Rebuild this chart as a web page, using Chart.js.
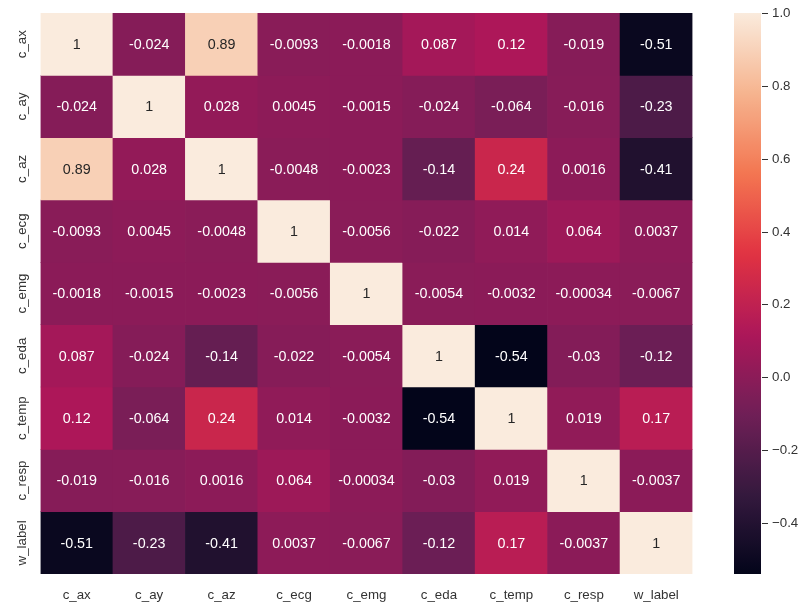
<!DOCTYPE html>
<html>
<head>
<meta charset="utf-8">
<script src="https://cdn.jsdelivr.net/npm/chart.js@4"></script>
<style>
  html, body { margin: 0; padding: 0; background: #ffffff; }
  #wrap { position: relative; width: 807px; height: 610px; }
  canvas { display: block; }
</style>
</head>
<body>
<div id="wrap"><canvas id="c" width="807" height="610"></canvas></div>
<script>
// ---------- DATA ----------
const variables = ["c_ax", "c_ay", "c_az", "c_ecg", "c_emg", "c_eda", "c_temp", "c_resp", "w_label"];
const row_c_ax    = [1, -0.024, 0.89, -0.0093, -0.0018, 0.087, 0.12, -0.019, -0.51];
const row_c_ay    = [-0.024, 1, 0.028, 0.0045, -0.0015, -0.024, -0.064, -0.016, -0.23];
const row_c_az    = [0.89, 0.028, 1, -0.0048, -0.0023, -0.14, 0.24, 0.0016, -0.41];
const row_c_ecg   = [-0.0093, 0.0045, -0.0048, 1, -0.0056, -0.022, 0.014, 0.064, 0.0037];
const row_c_emg   = [-0.0018, -0.0015, -0.0023, -0.0056, 1, -0.0054, -0.0032, -0.00034, -0.0067];
const row_c_eda   = [0.087, -0.024, -0.14, -0.022, -0.0054, 1, -0.54, -0.03, -0.12];
const row_c_temp  = [0.12, -0.064, 0.24, 0.014, -0.0032, -0.54, 1, 0.019, 0.17];
const row_c_resp  = [-0.019, -0.016, 0.0016, 0.064, -0.00034, -0.03, 0.019, 1, -0.0037];
const row_w_label = [-0.51, -0.23, -0.41, 0.0037, -0.0067, -0.12, 0.17, -0.0037, 1];
const matrix = [row_c_ax, row_c_ay, row_c_az, row_c_ecg, row_c_emg, row_c_eda, row_c_temp, row_c_resp, row_w_label];
const colorbarTicks = [-0.4, -0.2, 0.0, 0.2, 0.4, 0.6, 0.8, 1.0];
const VMIN = -0.54, VMAX = 1.0;

// ---------- COLORMAP (seaborn "rocket") ----------
const rocketStops = [
  [0/7, [3, 5, 26]],
  [1/7, [53, 25, 62]],
  [2/7, [112, 31, 87]],
  [3/7, [173, 23, 89]],
  [4/7, [225, 51, 66]],
  [5/7, [243, 118, 81]],
  [6/7, [246, 180, 143]],
  [7/7, [250, 235, 221]]
];
function rocket(t) {
  t = Math.max(0, Math.min(1, t));
  for (let i = 1; i < rocketStops.length; i++) {
    const [t1, c1] = rocketStops[i];
    const [t0, c0] = rocketStops[i - 1];
    if (t <= t1) {
      const f = (t - t0) / (t1 - t0);
      return c0.map((v, k) => Math.round(v + (c1[k] - v) * f));
    }
  }
  return rocketStops[rocketStops.length - 1][1];
}
function colorFor(v) {
  const c = rocket((v - VMIN) / (VMAX - VMIN));
  return `rgb(${c[0]},${c[1]},${c[2]})`;
}
function textColorFor(v) {
  const c = rocket((v - VMIN) / (VMAX - VMIN)).map(x => {
    x /= 255;
    return x <= 0.03928 ? x / 12.92 : Math.pow((x + 0.055) / 1.055, 2.4);
  });
  const lum = 0.2126 * c[0] + 0.7152 * c[1] + 0.0722 * c[2];
  return lum > 0.408 ? "rgb(38,38,38)" : "#ffffff";
}

// ---------- DATASETS (one per row, floating bars spanning [r, r+1]) ----------
const datasets = matrix.map((row, r) => ({
  label: variables[r],
  data: row.map(() => [r, r + 1]),
  backgroundColor: row.map(v => colorFor(v)),
  borderWidth: 0,
  grouped: false,
  barPercentage: 1,
  categoryPercentage: 1
}));

const FONT = '"Liberation Sans", Arial, sans-serif';
const LABEL_COLOR = "#333333";

const heatmapDecor = {
  id: "heatmapDecor",
  afterDatasetsDraw(chart) {
    const ctx = chart.ctx;
    const xs = chart.scales.x, ys = chart.scales.y, cb = chart.scales.cb;
    const area = chart.chartArea;
    ctx.save();
    // annotations
    ctx.font = `14.3px ${FONT}`;
    ctx.textAlign = "center";
    ctx.textBaseline = "middle";
    matrix.forEach((row, r) => {
      row.forEach((v, c) => {
        ctx.fillStyle = textColorFor(v);
        ctx.fillText(String(v), xs.getPixelForValue(c), ys.getPixelForValue(r + 0.5) + 1);
      });
    });
    // x labels
    ctx.font = `13.3px ${FONT}`;
    ctx.fillStyle = LABEL_COLOR;
    ctx.textBaseline = "alphabetic";
    variables.forEach((name, c) => {
      ctx.fillText(name, xs.getPixelForValue(c), area.bottom + 25);
    });
    // y labels (rotated)
    variables.forEach((name, r) => {
      ctx.save();
      ctx.translate(26, ys.getPixelForValue(r + 0.5));
      ctx.rotate(-Math.PI / 2);
      ctx.textAlign = "center";
      ctx.textBaseline = "alphabetic";
      ctx.fillText(name, 0, 0);
      ctx.restore();
    });
    // colorbar
    const cbLeft = 734, cbRight = 761;
    const yTop = cb.getPixelForValue(VMAX), yBot = cb.getPixelForValue(VMIN);
    const grad = ctx.createLinearGradient(0, yBot, 0, yTop);
    const N = 64;
    for (let i = 0; i <= N; i++) {
      const c = rocket(i / N);
      grad.addColorStop(i / N, `rgb(${c[0]},${c[1]},${c[2]})`);
    }
    ctx.fillStyle = grad;
    ctx.fillRect(cbLeft, yTop, cbRight - cbLeft, yBot - yTop);
    // colorbar ticks
    ctx.strokeStyle = LABEL_COLOR;
    ctx.lineWidth = 1;
    ctx.fillStyle = LABEL_COLOR;
    ctx.textAlign = "left";
    ctx.textBaseline = "middle";
    colorbarTicks.forEach(t => {
      const y = Math.round(cb.getPixelForValue(t)) + 0.5;
      ctx.beginPath();
      ctx.moveTo(cbRight + 1, y);
      ctx.lineTo(cbRight + 7, y);
      ctx.stroke();
      const txt = t.toFixed(1).replace("-", "\u2212");
      ctx.fillText(txt, cbRight + 11, y);
    });
    ctx.restore();
  }
};

new Chart(document.getElementById("c"), {
  type: "bar",
  data: { labels: variables, datasets },
  options: {
    responsive: false,
    animation: false,
    devicePixelRatio: 1,
    layout: { padding: { left: 40.5, right: 807 - 692.5, top: 13, bottom: 610 - 574 } },
    plugins: { legend: { display: false }, tooltip: { enabled: false } },
    scales: {
      x: { type: "category", display: false, offset: true, grid: { display: false } },
      y: { type: "linear", display: false, min: 0, max: 9, reverse: true },
      cb: { type: "linear", display: false, position: "right", min: VMIN, max: VMAX }
    }
  },
  plugins: [heatmapDecor]
});
</script>
</body>
</html>
